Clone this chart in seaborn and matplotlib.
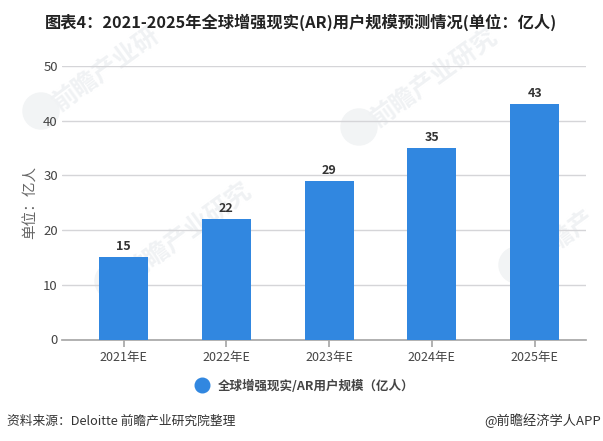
# -*- coding: utf-8 -*-

import pandas as pd
import seaborn as sns
import matplotlib.pyplot as plt
from matplotlib.lines import Line2D
from matplotlib.patches import Ellipse

years = ['2021年E', '2022年E', '2023年E', '2024年E', '2025年E']
users = [15, 22, 29, 35, 43]
yticks = [0, 10, 20, 30, 40, 50]
series_name = '全球增强现实/AR用户规模（亿人）'

W, H = 603, 441
sns.set_theme(style='white')
plt.rcParams['font.family'] = ['Noto Sans CJK SC', 'DejaVu Sans']

data = pd.DataFrame({'year': years, 'users': users})

fig = plt.figure(figsize=(W / 100, H / 100), dpi=100, facecolor='white')
ax = fig.add_axes([62 / W, 1 - 339.5 / H, (586 - 62) / W, (339.5 - 66) / H])
ax.patch.set_visible(False)

sns.barplot(data=data, x='year', y='users', color='#3187e0', saturation=1,
            width=0.477, linewidth=0, ax=ax, zorder=3)
ax.set_xlim(-0.6, 4.5)
ax.set_ylim(0, 50)
ax.set_yticks(yticks)
ax.set_xlabel('')
ax.set_ylabel('单位：亿人', fontsize=10.5, color='#666666')
ax.yaxis.set_label_coords(-0.047, 0.5)

ax.grid(axis='y', color='#d5d5d8', linewidth=1, zorder=0)
ax.set_axisbelow(True)
for side in ['top', 'right', 'left']:
    ax.spines[side].set_visible(False)
ax.spines['bottom'].set_color('#a8a8a8')
ax.tick_params(axis='x', length=5, color='#a8a8a8', labelsize=9, labelcolor='#444444', pad=3, bottom=True)
ax.tick_params(axis='y', length=0, labelsize=9.5, labelcolor='#444444', pad=3)

for i, v in enumerate(users):
    ax.annotate(str(v), (i, v), xytext=(0, 3), textcoords='offset points', ha='center',
                va='bottom', fontsize=9, fontweight='bold', color='#333333', zorder=5)

# watermarks, behind the axes
marks = [(60, 112, '前瞻产业研'), (378, 128, '前瞻产业研究'), (132, 282, '前瞻产业研究'), (536, 266, '前瞻产')]
for x, y, label in marks:
    fig.text(x / W, 1 - y / H, label, fontsize=18, fontweight='bold', color='#f0f2f4',
             rotation=36, rotation_mode='anchor', zorder=-1)
    fig.add_artist(Ellipse(((x - 19) / W, 1 - (y - 1) / H), 36 / W, 36 / H, color='#f2f4f5', zorder=-1))

handle = Line2D([], [], linestyle='none', marker='o', markersize=10.5, color='#3187e0')
fig.legend([handle], [series_name], loc='center', bbox_to_anchor=(302 / W, 1 - 386 / H),
           frameon=False, prop={'size': 9, 'weight': 'bold'}, labelcolor='#444444',
           handletextpad=0.3)

fig.text(301 / W, 1 - 22 / H, '图表4：2021-2025年全球增强现实(AR)用户规模预测情况(单位：亿人)',
         ha='center', va='center', fontsize=11.7, fontweight='bold', color='#222222')
fig.text(7 / W, 1 - 421 / H, '资料来源：Deloitte 前瞻产业研究院整理', ha='left', va='center',
         fontsize=9.2, color='#333333')
fig.text(601 / W, 1 - 421 / H, '@前瞻经济学人APP', ha='right', va='center', fontsize=9.5, color='#333333')

fig.savefig('out.png', dpi=100)
